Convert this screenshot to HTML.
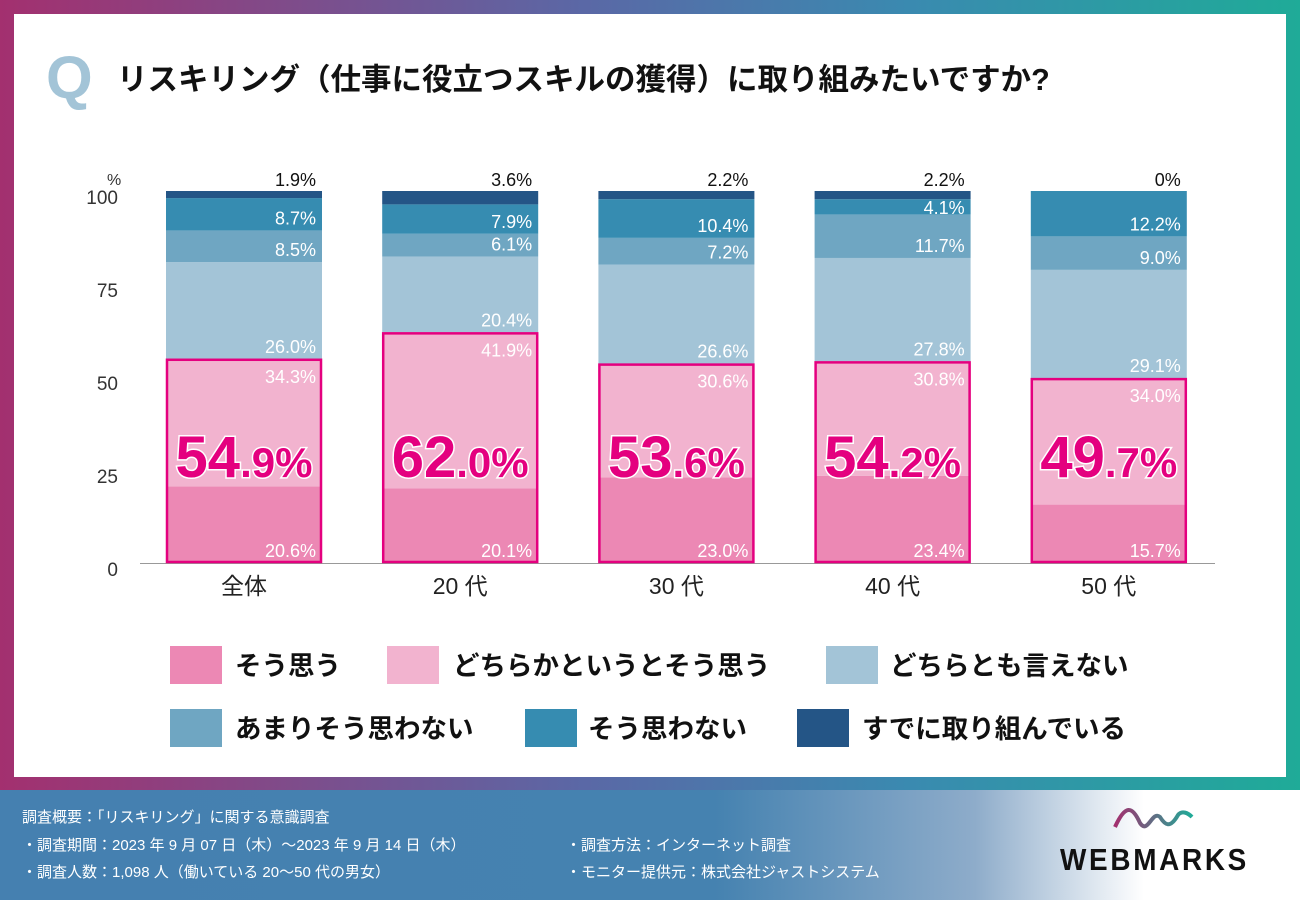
<!DOCTYPE html>
<html><head><meta charset="utf-8"><style>
body{margin:0;width:1300px;height:900px;overflow:hidden;font-family:"Liberation Sans","Noto Sans CJK JP",sans-serif;}
#frame{position:absolute;left:0;top:0;width:1300px;height:790px;background:linear-gradient(90deg,#a3306f,#5a68a6 45%,#3a8ab0 70%,#1fab98);}
#panel{position:absolute;left:14px;top:14px;width:1272px;height:763px;background:#fff;}
#footer{position:absolute;left:0;top:790px;width:1300px;height:110px;background:linear-gradient(90deg,#4580b0 0%,#4582b0 55%,#8eacca 75%,#fff 88%);color:#fff;font-size:15px;}
#footer div{position:absolute;white-space:nowrap;}
</style></head><body>
<div id="frame"></div>
<div id="panel"></div>
<svg width="1300" height="790" style="position:absolute;left:0;top:0" id="chart">
<text x="46" y="98" font-size="60" font-weight="bold" fill="#a3c4d7">Q</text>
<text x="117" y="90" font-size="30.5" font-weight="bold" fill="#111" font-family="'Liberation Sans','Noto Sans CJK JP',sans-serif">リスキリング（仕事に役立つスキルの獲得）に取り組みたいですか?</text>
</svg>
<div id="footer">
<div style="left:22px;top:16px">調査概要：「リスキリング」に関する意識調査</div>
<div style="left:22px;top:44px">・調査期間：2023 年 9 月 07 日（木）～2023 年 9 月 14 日（木）</div>
<div style="left:22px;top:71px">・調査人数：1,098 人（働いている 20～50 代の男女）</div>
<div style="left:566px;top:44px">・調査方法：インターネット調査</div>
<div style="left:566px;top:71px">・モニター提供元：株式会社ジャストシステム</div>
<svg style="position:absolute;left:1110px;top:15px" width="90" height="30"><defs><linearGradient id="wg"><stop offset="0" stop-color="#a3306f"/><stop offset="1" stop-color="#1fab98"/></linearGradient></defs><path d="M5 22 C15 0 22 0 30 18 C38 30 42 5 50 12 C55 20 60 24 68 10 C72 5 78 8 82 12" stroke="url(#wg)" stroke-width="4" fill="none"/></svg>
<div style="left:1060px;top:52px;font-size:31px;font-weight:bold;color:#111;letter-spacing:3px;transform:scaleX(0.9);transform-origin:left">WEBMARKS</div>
</div>
<script>
const categories=["全体","20 代","30 代","40 代","50 代"];
const seriesNames=["そう思う","どちらかというとそう思う","どちらとも言えない","あまりそう思わない","そう思わない","すでに取り組んでいる"];
const s1=[20.6,20.1,23.0,23.4,15.7];
const s2=[34.3,41.9,30.6,30.8,34.0];
const s3=[26.0,20.4,26.6,27.8,29.1];
const s4=[8.5,6.1,7.2,11.7,9.0];
const s5=[8.7,7.9,10.4,4.1,12.2];
const s6=[1.9,3.6,2.2,2.2,0];
const totals=[54.9,62.0,53.6,54.2,49.7];
const yTicks=[0,25,50,75,100];
const colors=["#ec88b4","#f2b3cf","#a3c4d7","#6fa6c2","#368cb1","#245586"];
const svg=document.getElementById('chart');const NS="http://www.w3.org/2000/svg";
const y0=563,y100=191;const y=v=>y0-(y0-y100)*v/100;
const bx=i=>166+i*216.2;const bw=156;
function mk(t,a,txt){const e=document.createElementNS(NS,t);for(const k in a)e.setAttribute(k,a[k]);if(txt!==undefined)e.textContent=txt;svg.appendChild(e);return e;}
let e=mk('line',{x1:140,x2:1215,y1:y0+0.5,y2:y0+0.5,stroke:'#999','stroke-width':1});

yTicks.forEach(t=>{const el=mk('text',{x:118,y:y(t)+13,'text-anchor':'end','font-size':19,fill:'#333'},t);

});
e=mk('text',{x:107,y:185,'font-size':16,fill:'#333'},'%');

const series=[s1,s2,s3,s4,s5,s6];
categories.forEach((c,i)=>{
 let acc=0;const x=bx(i);
 series.forEach((s,k)=>{
  const v=s[i];const top=y(acc+v),bot=y(acc);
  const r=mk('rect',{x:x,y:top,width:bw,height:Math.max(0,bot-top),fill:colors[k]});
  
  
  let ly,fill='#fff';
  if(k==5){ly=y(100)-5;fill='#111';}
  else if(k==1)ly=top+24;else ly=Math.max(bot-6,top+15);
  const t=mk('text',{x:x+bw-6,y:ly,'text-anchor':'end','font-size':18,fill:fill},(k==5&&v==0)?'0%':v.toFixed(1)+'%');
  
  
  acc+=v;
 });
 const tt=y(s1[i]+s2[i]);
 const ob=mk('rect',{x:x+1,y:tt+1,width:bw-2,height:y0-tt-2,fill:'none',stroke:'#e4007f','stroke-width':2.5});
 
 
 const parts=totals[i].toFixed(1).split('.');
 const bt=mk('text',{x:x+bw/2,y:477,'text-anchor':'middle',fill:'#e4007f',stroke:'#fff','stroke-width':3,'paint-order':'stroke','font-weight':'bold','font-size':58});
 
 
 const ts1=document.createElementNS(NS,'tspan');ts1.textContent=parts[0];bt.appendChild(ts1);
 const ts2=document.createElementNS(NS,'tspan');ts2.setAttribute('font-size','42');ts2.textContent='.'+parts[1]+'%';bt.appendChild(ts2);
 const cl=mk('text',{x:x+bw/2,y:594,'text-anchor':'middle','font-size':23,fill:'#222'},c);
 
 
});
const legPos=[[170,646,235],[387,646,453],[826,646,890],[170,709,235],[525,709,588],[797,709,862]];
seriesNames.forEach((n,k)=>{const p=legPos[k];
 const r=mk('rect',{x:p[0],y:p[1],width:52,height:38,fill:colors[k]});
 
 
 const t=mk('text',{x:p[2],y:p[1]+29,'font-size':26.5,'font-weight':'bold',fill:'#111'},n);
 
 
});
</script>
</body></html>
